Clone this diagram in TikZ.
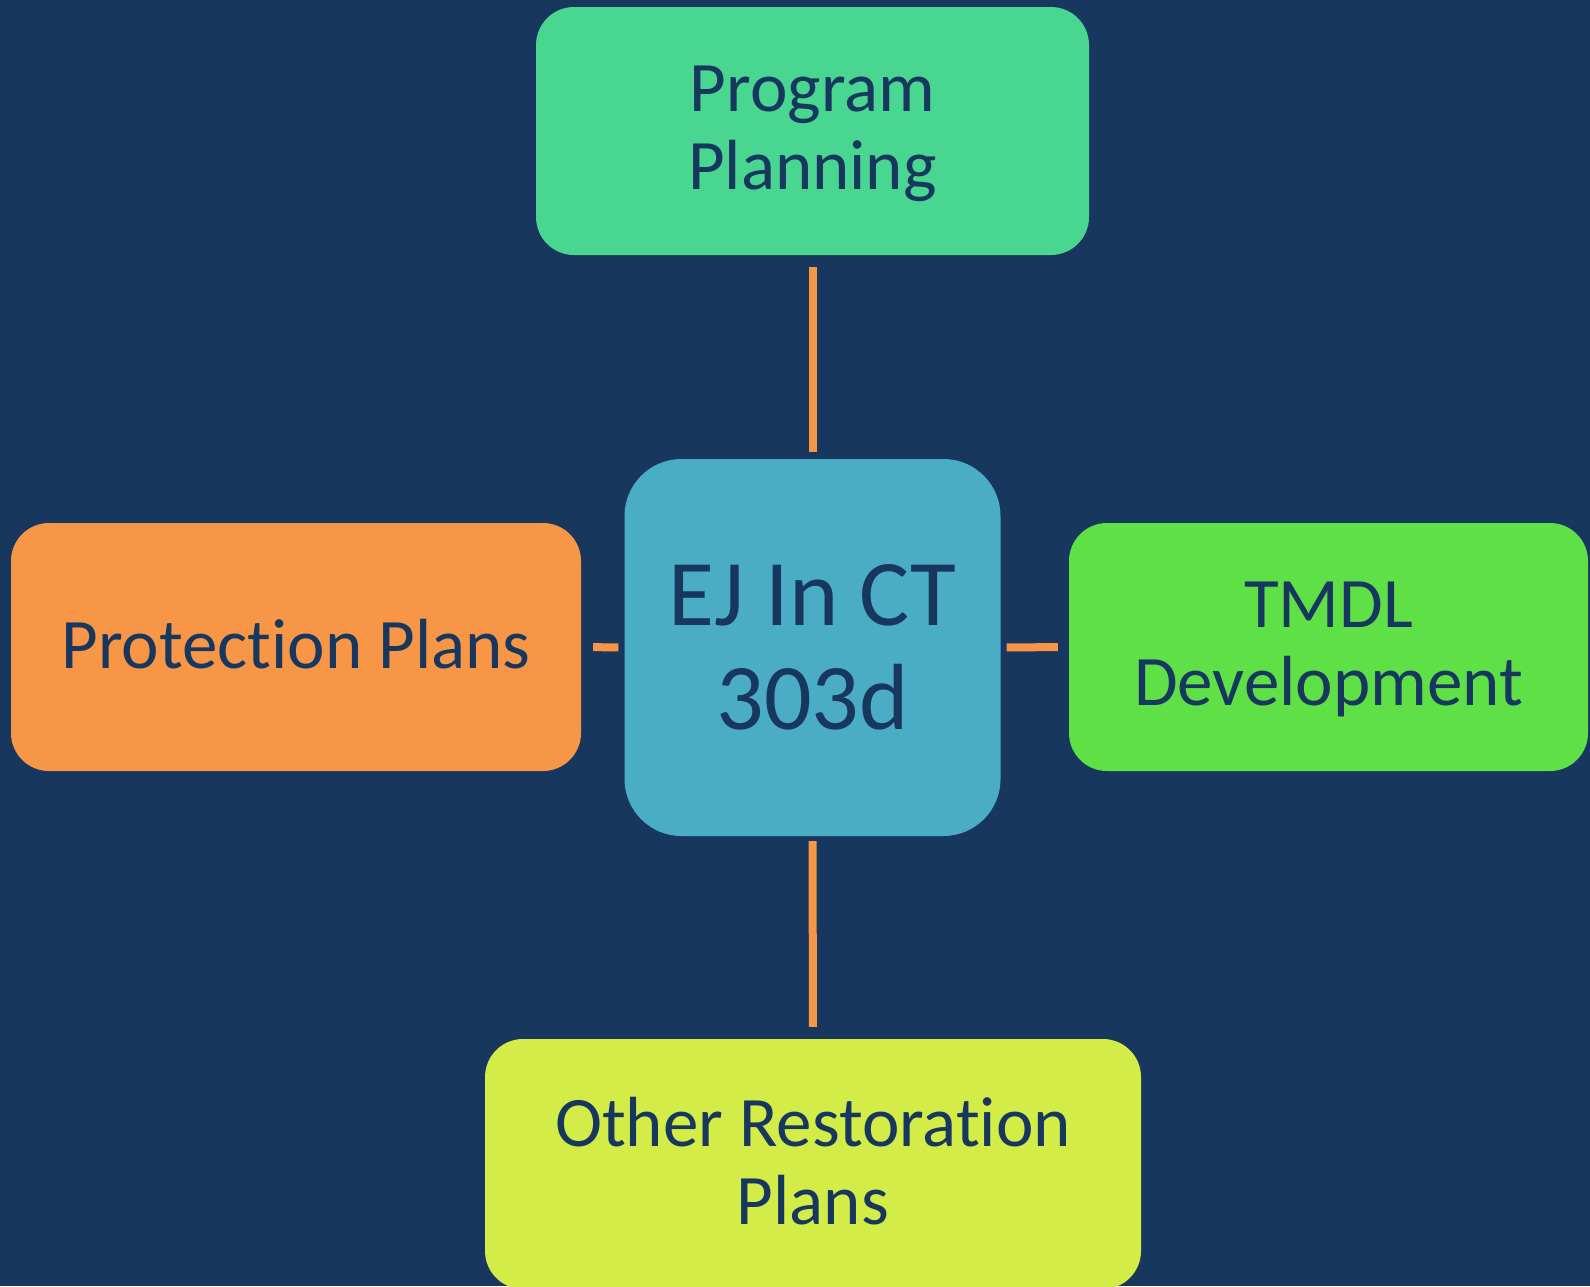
\documentclass[tikz,border=0pt]{standalone}
\usepackage{fontspec}
\setmainfont{Carlito}[Ligatures=NoCommon]
\usetikzlibrary{positioning}
\definecolor{navy}{RGB}{23,55,94}
\definecolor{mint}{RGB}{72,214,145}
\definecolor{aqua}{RGB}{75,172,198}
\definecolor{tang}{RGB}{247,150,70}
\definecolor{lime}{RGB}{95,224,70}
\definecolor{chart}{RGB}{212,236,71}

\begin{document}
\begin{tikzpicture}[x=1pt,y=-1pt,
  box/.style={rounded corners=38pt,inner sep=0pt,align=center,text=navy,text depth=6pt,
    font=\fontsize{71}{78}\selectfont,minimum height=248pt},
  hub/.style={rounded corners=57pt,inner sep=0pt,align=center,text=navy,fill=aqua,
    font=\fontsize{94}{104}\selectfont,minimum width=376pt,minimum height=377pt},
  link/.style={draw=tang,line width=8pt}]
\fill[navy] (0,0) rectangle (1590,1286);
\useasboundingbox (0,0) rectangle (1590,1286);
\node[hub] (ej) at (812.5,647.5) {EJ In CT\\303d};
\node[box,fill=mint,minimum width=553pt] (prog) at (812.5,131) {Program\\Planning};
\node[box,fill=tang,minimum width=570pt] (prot) at (296,647) {Protection Plans};
\node[box,fill=lime,minimum width=519pt] (tmdl) at (1328.5,647) {TMDL\\Development};
\node[box,fill=chart,minimum width=656pt,minimum height=250pt] (other) at (813,1164) {Other Restoration\\Plans};
\draw[link,shorten <=12pt,shorten >=7pt] (prog.south) -- (ej.north);
\draw[link,shorten <=12pt,shorten >=6pt] (prot.east) -- (ej.west);
\draw[link,shorten <=6pt,shorten >=11pt] (ej.east) -- (tmdl.west);
\draw[link,shorten <=5pt,shorten >=12pt] (ej.south) -- (other.north);
\end{tikzpicture}
\end{document}
